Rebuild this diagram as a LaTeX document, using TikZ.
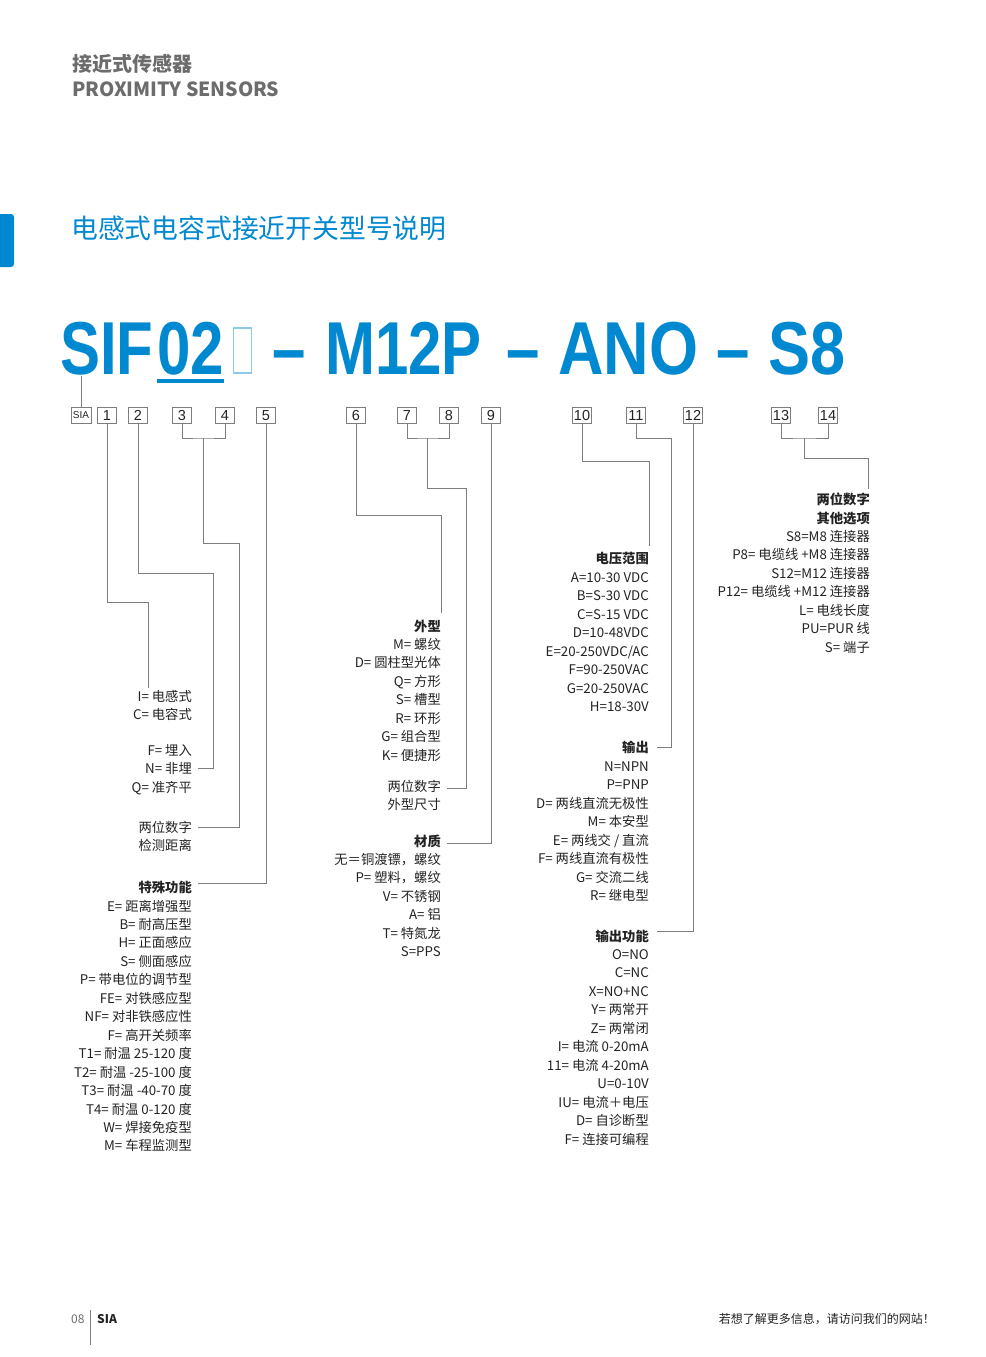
\documentclass[tikz,border=0pt]{standalone}
\usepackage{fontspec}
\setmainfont{Noto Sans CJK SC}
\newfontfamily\codefont{Liberation Sans}
\usetikzlibrary{positioning}

\definecolor{siablue}{RGB}{0,136,209}
\definecolor{headgray}{RGB}{108,108,108}
\definecolor{linegray}{RGB}{125,125,125}
\definecolor{textdark}{RGB}{35,35,35}
\newcommand{\codenarrow}[1]{\scalebox{0.8}[1]{#1}}

\begin{document}
\begin{tikzpicture}[x=1pt, y=-1pt,
    numbox/.style={draw=linegray, line width=0.8pt, minimum width=19pt, minimum height=16pt,
        inner sep=0pt, text=textdark, font=\codefont\fontsize{14.5}{14.5}\selectfont},
    item/.style={anchor=base east, inner sep=0pt, text=textdark, font=\fontsize{13.3}{13.3}\selectfont},
    itemhead/.style={item, font=\fontsize{13.3}{13.3}\selectfont\bfseries},
    link/.style={draw=linegray, line width=0.9pt},
    bigcode/.style={anchor=base west, inner sep=0pt, text=siablue,
        font=\codefont\fontsize{75}{75}\selectfont\bfseries}]
    \useasboundingbox (0,0) rectangle (985,1357);

    % Page header
    \node[anchor=west, inner sep=0pt, text=headgray, font=\fontsize{20}{20}\selectfont\bfseries] (hcn) at (72,64) {接近式传感器};
    \node[anchor=west, inner sep=0pt, text=headgray, font=\fontsize{19.5}{19.5}\selectfont\bfseries] (hen) at (72,89) {PROXIMITY SENSORS};
    \fill[siablue, rounded corners=3pt] (-6,214) rectangle (14,267);
    \node[anchor=west, inner sep=0pt, text=siablue, font=\fontsize{26.8}{26.8}\selectfont] (title) at (71,228) {电感式电容式接近开关型号说明};

    % Model code
    \node[bigcode] (cSIF) at (60,374) {\codenarrow{SIF}};
    \node[bigcode] (c02) at (157,374) {\codenarrow{02}};
    \draw[siablue, line width=4pt] ([yshift=-6pt]c02.south west) -- ([yshift=-6pt]c02.south east);
    \node[draw=siablue!45, line width=1.5pt, minimum width=18pt, minimum height=45pt, inner sep=0pt] (slot) at (242.5,350.5) {};
    \node[bigcode] (d1) at (272,374) {\codenarrow{–}};
    \node[bigcode] (cM12P) at (325,374) {\codenarrow{M12P}};
    \node[bigcode] (d2) at (506,374) {\codenarrow{–}};
    \node[bigcode] (cANO) at (558,374) {\scalebox{0.84}[1]{ANO}};
    \node[bigcode] (d3) at (716,374) {\codenarrow{–}};
    \node[bigcode] (cS8) at (768,374) {\scalebox{0.84}[1]{S8}};

    % Position boxes
    \node[numbox, minimum width=20pt, font=\codefont\fontsize{10}{10}\selectfont] (sia) at (81,415.5) {SIA};
    \foreach \n/\x in {1/107, 2/138, 3/182, 4/225, 5/266, 6/356, 7/407, 8/449, 9/491,
                       10/582, 11/636, 12/693, 13/781, 14/828}
        \node[numbox] (b\n) at (\x,415.5) {\n};

    % Connector end points
    \coordinate (sbot) at (81,376);
    \coordinate (j1) at (148,602);   \coordinate (e1) at (148,688);
    \coordinate (j2) at (213,573);   \coordinate (e2) at (198,768);
    \coordinate (m34) at (203,438);  \coordinate (j34) at (239,543);  \coordinate (e34) at (198,827);
    \coordinate (e5) at (198,883);
    \coordinate (j6) at (441,515);   \coordinate (e6) at (441,613);
    \coordinate (m78) at (427,438);  \coordinate (j78) at (466,488);  \coordinate (e78) at (447,788);
    \coordinate (e9) at (447,843);
    \coordinate (j10) at (649,461);  \coordinate (e10) at (649,546);
    \coordinate (j11) at (671,438);  \coordinate (e11) at (657,747);
    \coordinate (e12) at (657,931);
    \coordinate (m1314) at (804,438); \coordinate (j1314) at (868,458); \coordinate (e1314) at (868,489);

    % Connectors
    \draw[link] (sbot) -- (sia.north);
    \draw[link] (b1.south) |- (j1) -- (e1);
    \draw[link] (b2.south) |- (j2) |- (e2);
    \draw[link] (b3.south) |- (m34) -| (b4.south);
    \draw[link] (m34) |- (j34) |- (e34);
    \draw[link] (b5.south) |- (e5);
    \draw[link] (b6.south) |- (j6) -- (e6);
    \draw[link] (b7.south) |- (m78) -| (b8.south);
    \draw[link] (m78) |- (j78) |- (e78);
    \draw[link] (b9.south) |- (e9);
    \draw[link] (b10.south) |- (j10) -- (e10);
    \draw[link] (b11.south) |- (j11) |- (e11);
    \draw[link] (b12.south) |- (e12);
    \draw[link] (b13.south) |- (m1314) -| (b14.south);
    \draw[link] (m1314) |- (j1314) -- (e1314);

    % Column 1
    \foreach \t [count=\i from 0] in {I= 电感式, C= 电容式}
        \node[item] (ta\i) at (192,{701+18.5*\i}) {\t};
    \foreach \t [count=\i from 0] in {F= 埋入, N= 非埋, Q= 准齐平}
        \node[item] (tb\i) at (192,{755+18.5*\i}) {\t};
    \node[item] (tc0) at (192,832) {两位数字};
    \node[item] (tc1) at (192,850) {检测距离};
    \node[itemhead] (td) at (192,892) {特殊功能};
    \foreach \t [count=\i from 0] in {E= 距离增强型, B= 耐高压型, H= 正面感应, S= 侧面感应,
            P= 带电位的调节型, FE= 对铁感应型, NF= 对非铁感应性, F= 高开关频率,
            T1= 耐温 25-120 度, T2= 耐温 -25-100 度, T3= 耐温 -40-70 度, T4= 耐温 0-120 度,
            W= 焊接免疫型, M= 车程监测型}
        \node[item] (td\i) at (192,{911+18.46*\i}) {\t};

    % Column 2
    \node[itemhead] (te) at (441,631) {外型};
    \foreach \t [count=\i from 0] in {M= 螺纹, D= 圆柱型光体, Q= 方形, S= 槽型, R= 环形, G= 组合型, K= 便捷形}
        \node[item] (te\i) at (441,{649+18.5*\i}) {\t};
    \node[item] (tf0) at (441,791) {两位数字};
    \node[item] (tf1) at (441,809) {外型尺寸};
    \node[itemhead] (tg) at (441,846) {材质};
    \foreach \t [count=\i from 0] in {无＝铜渡镖，螺纹, P= 塑料，螺纹, V= 不锈钢, A= 铝, T= 特氮龙, S=PPS}
        \node[item] (tg\i) at (441,{864+18.5*\i}) {\t};

    % Column 3
    \node[itemhead] (th) at (649,563) {电压范围};
    \foreach \t [count=\i from 0] in {A=10-30 VDC, B=S-30 VDC, C=S-15 VDC, D=10-48VDC,
            E=20-250VDC/AC, F=90-250VAC, G=20-250VAC, H=18-30V}
        \node[item] (th\i) at (649,{582+18.5*\i}) {\t};
    \node[itemhead] (ti) at (649,752) {输出};
    \foreach \t [count=\i from 0] in {N=NPN, P=PNP, D= 两线直流无极性, M= 本安型,
            E= 两线交 / 直流, F= 两线直流有极性, G= 交流二线, R= 继电型}
        \node[item] (ti\i) at (649,{771+18.5*\i}) {\t};
    \node[itemhead] (tj) at (649,941) {输出功能};
    \foreach \t [count=\i from 0] in {O=NO, C=NC, X=NO+NC, Y= 两常开, Z= 两常闭, I= 电流 0-20mA,
            11= 电流 4-20mA, U=0-10V, IU= 电流＋电压, D= 自诊断型, F= 连接可编程}
        \node[item] (tj\i) at (649,{959+18.5*\i}) {\t};

    % Column 4
    \node[itemhead] (tk0) at (870,504) {两位数字};
    \node[itemhead] (tk1) at (870,523) {其他选项};
    \foreach \t [count=\i from 0] in {S8=M8 连接器, P8= 电缆线 +M8 连接器, S12=M12 连接器,
            P12= 电缆线 +M12 连接器, L= 电线长度, PU=PUR 线, S= 端子}
        \node[item] (tl\i) at (870,{541+18.5*\i}) {\t};

    % Footer
    \node[anchor=base west, inner sep=0pt, text=headgray, font=\fontsize{12}{12}\selectfont] (pg) at (71,1323) {08};
    \draw[linegray, line width=0.8pt] (90,1310) -- (90,1345);
    \node[anchor=base west, inner sep=0pt, text=textdark, font=\fontsize{12}{12}\selectfont\bfseries] (brand) at (97,1323) {SIA};
    \node[anchor=base east, inner sep=0pt, text=textdark, font=\fontsize{12}{12}\selectfont] (web) at (935,1323) {若想了解更多信息，请访问我们的网站！};
\end{tikzpicture}
\end{document}
